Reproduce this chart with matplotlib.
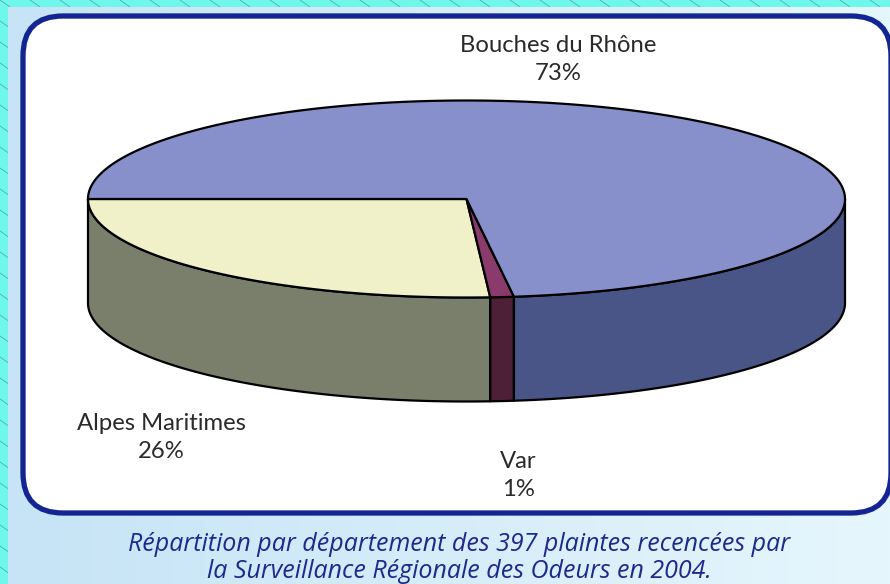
import numpy as np
import matplotlib
matplotlib.use("Agg")
import matplotlib.pyplot as plt
from matplotlib.patches import Polygon, FancyBboxPatch

# ---- data ----
departments = ["Alpes Maritimes", "Var", "Bouches du Rhône"]
shares = [26, 1, 73]
pct_labels = ["26%", "1%", "73%"]
top_colors = ["#f1f1c9", "#8b3b6b", "#8890cc"]
side_colors = ["#7a7f6c", "#4d2038", "#4a5587"]
caption = ("Répartition par département des 397 plaintes recencées par\n"
           "la Surveillance Régionale des Odeurs en 2004.")

W, H = 890, 584
fig = plt.figure(figsize=(W / 100, H / 100), dpi=100)
fig.patch.set_facecolor("#70f7ec")
ax = fig.add_axes([0, 0, 1, 1])
ax.set_xlim(0, W)
ax.set_ylim(H, 0)
ax.axis("off")

# hatched cyan border
for c in np.arange(-900, 900, 30):
    xs = np.array([c, c + 900])
    ax.plot(xs, (xs - c) * 0.7, color="#4fb0ad", lw=0.6, zorder=0)

# light blue panel gradient
grad = np.linspace(0, 1, 256)[None, :, None]
c0 = np.array(matplotlib.colors.to_rgb("#c6e4f6"))
c1 = np.array(matplotlib.colors.to_rgb("#e6f6fd"))
img = c0 * (1 - grad) + c1 * grad
ax.imshow(img, extent=[8, W, H, 7], aspect="auto", zorder=1)

# white rounded frame
frame = FancyBboxPatch((23, 16), 868, 497, boxstyle="round,pad=0,rounding_size=40",
                       facecolor="white", edgecolor="#132592", lw=3.8, zorder=2)
ax.add_patch(frame)

# ---- 3D pie ----
cx, cy, a, b, depth = 466.5, 199.0, 378.5, 98.5, 104.0

def pt(t, dz=0.0):
    r = np.deg2rad(t)
    return cx + a * np.cos(r), cy - b * np.sin(r) + dz

angles = np.cumsum([180.0] + [s * 3.6 for s in shares])
lw = 1.6

# side faces (front half: 180..360)
for i in range(len(shares)):
    t0, t1 = angles[i], angles[i + 1]
    s0, s1 = max(t0, 180), min(t1, 360)
    if s1 <= s0:
        continue
    ts = np.linspace(s0, s1, 120)
    top = [pt(t) for t in ts]
    bot = [pt(t, depth) for t in ts[::-1]]
    ax.add_patch(Polygon(top + bot, closed=True, facecolor=side_colors[i],
                         edgecolor="black", lw=lw, joinstyle="round", zorder=3))

# top faces
for i in range(len(shares)):
    t0, t1 = angles[i], angles[i + 1]
    ts = np.linspace(t0, t1, max(int((t1 - t0) * 2), 10))
    verts = [(cx, cy)] + [pt(t) for t in ts]
    ax.add_patch(Polygon(verts, closed=True, facecolor=top_colors[i],
                         edgecolor="black", lw=lw, joinstyle="round", zorder=4))

# ---- labels ----
lab_font = dict(family="Lato", fontsize=17.2, color="#2a2a2a", ha="center", va="center", zorder=5)
label_pos = {"Alpes Maritimes": (161, 424), "Var": (518, 462), "Bouches du Rhône": (558, 46)}
for name, p in zip(departments, pct_labels):
    x, y = label_pos[name]
    ax.text(x, y, name, **lab_font)
    ax.text(x, y + 28, p, **lab_font)

ax.text(459, 558, caption, family="Open Sans", style="italic", fontsize=18,
        color="#1c2a8a", ha="center", va="center", linespacing=1.08, zorder=5)

fig.savefig("out.png", dpi=100, facecolor=fig.get_facecolor())
